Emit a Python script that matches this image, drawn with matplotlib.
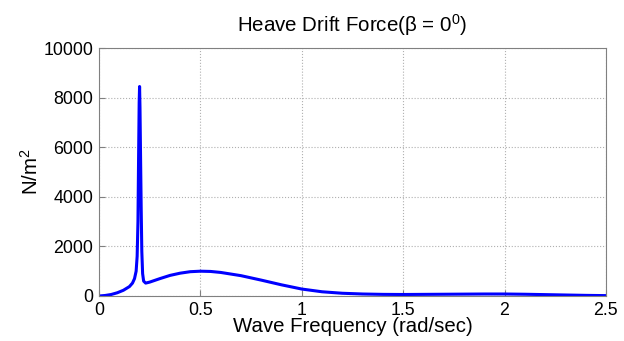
import matplotlib
matplotlib.use("Agg")
import matplotlib.pyplot as plt
import numpy as np

freq = [0.0, 0.03, 0.06, 0.09, 0.12, 0.15, 0.165, 0.175, 0.183, 0.188, 0.192, 0.195,
        0.198, 0.2, 0.202, 0.205, 0.208, 0.211, 0.215, 0.22, 0.23, 0.25, 0.3, 0.35,
        0.4, 0.45, 0.5, 0.55, 0.6, 0.7, 0.8, 0.9, 1.0, 1.1, 1.2, 1.3, 1.4, 1.5,
        1.6, 1.7, 1.8, 1.9, 2.0, 2.1, 2.2, 2.3, 2.4, 2.5]
force = [0, 20, 60, 130, 230, 380, 520, 700, 1000, 1600, 3000, 5500,
         7800, 8450, 7600, 5500, 3500, 1800, 900, 600, 520, 560, 700, 830,
         920, 980, 1000, 990, 950, 820, 640, 450, 280, 170, 110, 80, 65, 60,
         65, 70, 75, 80, 80, 70, 55, 40, 25, 15]

xticks = [0, 0.5, 1, 1.5, 2, 2.5]
xticklabels = ["0", "0.5", "1", "1.5", "2", "2.5"]
yticks = [0, 2000, 4000, 6000, 8000, 10000]

plt.rcParams['font.family'] = ['Liberation Sans', 'DejaVu Sans']
plt.rcParams['mathtext.fontset'] = 'custom'
plt.rcParams['mathtext.rm'] = 'Liberation Sans'
plt.rcParams['mathtext.it'] = 'Liberation Sans'

fig = plt.figure(figsize=(6.24, 3.41), dpi=100)
ax = fig.add_axes([0.1587, 0.132, 0.8123, 0.727])
ax.plot(freq, force, color='#0000ff', linewidth=2.2)
ax.set_xlim(0, 2.5)
ax.set_ylim(0, 10000)
ax.set_xticks(xticks)
ax.set_xticklabels(xticklabels)
ax.set_yticks(yticks)
ax.grid(True, linestyle=':', color='#b0b0b0', linewidth=0.8)
ax.tick_params(direction='in', labelsize=12.8, length=4, color='#808080', pad=4)
for s in ax.spines.values():
    s.set_color('#808080')
    s.set_linewidth(0.8)
ax.set_xlabel('Wave Frequency (rad/sec)', fontsize=14.7, labelpad=-1)
ax.set_ylabel('N/m$^2$', fontsize=14.7, labelpad=1.5)
ax.set_title('Heave Drift Force(β = 0$^0$)', fontsize=14.8, pad=12)
fig.savefig('out.png', dpi=100)
